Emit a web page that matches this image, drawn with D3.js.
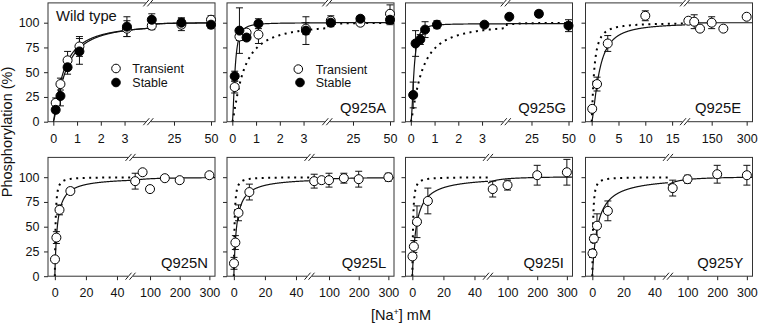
<!DOCTYPE html>
<html>
<head>
<meta charset="utf-8">
<script src="https://cdn.jsdelivr.net/npm/d3@7"></script>
<style>
  body { margin: 0; background: #fff; }
  svg { display: block; font-family: Arial, "Liberation Sans", sans-serif; }
</style>
</head>
<body>
<svg id="chart"></svg>
<script>
const width = 758;
const height = 324;

// [Na+] (mM) and phosphorylation (%), mean and error
const wtConc = [0.1, 0.3, 0.6, 1.1, 3.1, 10, 30, 50];
const wtTransient = [19, 38, 62, 76, 94, 97, 98, 103];
const wtTransientErr = [5, 6, 9, 10, 8, 4, 6, 4];
const wtStable = [12, 26, 55, 71, 96, 103, 100, 98];
const wtStableErr = [3, 10, 7, 13, 10, 6, 5, 4];

const q925aConc = [0.1, 0.3, 0.6, 1.1, 3.1, 10, 30, 50];
const q925aTransient = [35, 86, 90, 88, 94, 102, 100, 109];
const q925aTransientErr = [6, 4, 3, 9, 6, 5, 3, 9];
const q925aStable = [46, 92, 85, 99, 92, 100, 104, 103];
const q925aStableErr = [5, 23, 3, 5, 14, 4, 3, 5];

const q925gConc = [0.1, 0.2, 0.4, 0.6, 1.1, 3.1, 10, 30, 50];
const q925gStable = [27, 79, 83, 93, 98, 98, 106, 109, 97];
const q925gStableErr = [13, 13, 5, 8, 4, 2, 0, 3, 6];

const q925eConc = [0.1, 1, 3, 10, 50, 75, 100, 150, 200, 300];
const q925eTransient = [13, 38, 79, 107, 102, 101, 94, 100, 94, 106];
const q925eErr = [0, 7, 8, 5, 0, 7, 0, 6, 0, 0];

const q925nlConc = [0.1, 1, 3, 10, 50, 75, 100, 150, 200, 300];
const q925nTransient = [17, 39, 67, 86, 96, 105, 88, 99, 97, 102];
const q925nErr = [0, 6, 5, 3, 8, 0, 0, 0, 0, 0];
const q925lTransient = [13, 34, 64, 85, 96, 97, 97, 99, 98, 100];
const q925lErr = [6, 7, 8, 8, 7, 0, 7, 5, 8, 4];

const q925iyConc = [0.1, 1, 3, 10, 50, 100, 200, 300];
const q925iTransient = [20, 30, 55, 76, 88, 92, 102, 105];
const q925iErr = [3, 6, 16, 13, 8, 5, 10, 13];
const q925yTransient = [23, 38, 51, 66, 89, 98, 103, 102];
const q925yErr = [4, 4, 12, 10, 8, 4, 9, 10];

// Hill fits: [K0.5 (mM), nH, max %]
const wtFit = [0.45, 1.3, 100];
const wtTransientFit = [0.42, 1.25, 100];
const wtStableFit = [0.5, 1.35, 100];
const q925aFit = [0.11, 1.8, 100];
const q925gFit = [0.13, 2, 99];
const q925eFit = [1.4, 1.5, 100];
const q925nFit = [1.6, 1, 100];
const q925lFit = [1.8, 1, 100];
const q925iFit = [2.6, 1, 101];
const q925yFit = [3.4, 1, 101];

// broken x axes: ticks either side of the break
const ticksLow = [0, 1, 2, 3];
const ticksLowHigh = [25, 50];
const ticksE = [0, 5, 10, 15];
const ticksEHigh = [150, 300];
const ticksWide = [0, 20, 40];
const ticksWideHigh = [100, 200, 300];
const yTicks = [0, 25, 50, 75, 100];

const axisLow = { seg1: [-0.224, 4.0], seg2: [7.64, 52.7], brk: 100.3, t1: ticksLow, t2: ticksLowHigh };
const axisE = { seg1: [-1.15, 17.4], seg2: [35.6, 325], brk: 99.5, t1: ticksE, t2: ticksEHigh };
const axisWide = { seg1: [-4.4, 48.7], seg2: [34.2, 319], brk: 82.5, t1: ticksWide, t2: ticksWideHigh };

const colLeft = [48, 227, 405.5, 585.5];
const rowTop = [2.9, 157.4];
const pw = 167;
const ph = 118.8;

const open = (c, v, e) => ({ c, v, e, fill: '#fff' });
const filled = (c, v, e) => ({ c, v, e, fill: '#000' });

const panels = [
  { row: 0, col: 0, axis: axisLow, title: 'Wild type',
    series: [open(wtConc, wtTransient, wtTransientErr), filled(wtConc, wtStable, wtStableErr)],
    fits: [wtTransientFit, wtStableFit], dotted: null,
    legend: { open: [68, 65.6], filled: [68, 79.6], tx: 84.3 } },
  { row: 0, col: 1, axis: axisLow, label: 'Q925A', lx: 113,
    series: [open(q925aConc, q925aTransient, q925aTransientErr), filled(q925aConc, q925aStable, q925aStableErr)],
    fits: [q925aFit], dotted: 'both',
    legend: { open: [71.3, 66.2], filled: [73, 79.6], tx: 88.7 } },
  { row: 0, col: 2, axis: axisLow, label: 'Q925G', lx: 112.8,
    series: [filled(q925gConc, q925gStable, q925gStableErr)],
    fits: [q925gFit], dotted: 'both' },
  { row: 0, col: 3, axis: axisE, label: 'Q925E', lx: 109.5,
    series: [open(q925eConc, q925eTransient, q925eErr)],
    fits: [q925eFit], dotted: 'seg1' },
  { row: 1, col: 0, axis: axisWide, label: 'Q925N', lx: 113,
    series: [open(q925nlConc, q925nTransient, q925nErr)],
    fits: [q925nFit], dotted: 'seg1' },
  { row: 1, col: 1, axis: axisWide, label: 'Q925L', lx: 114.7,
    series: [open(q925nlConc, q925lTransient, q925lErr)],
    fits: [q925lFit], dotted: 'seg1' },
  { row: 1, col: 2, axis: axisWide, label: 'Q925I', lx: 118,
    series: [open(q925iyConc, q925iTransient, q925iErr)],
    fits: [q925iFit], dotted: 'seg1' },
  { row: 1, col: 3, axis: axisWide, label: 'Q925Y', lx: 111.8,
    series: [open(q925iyConc, q925yTransient, q925yErr)],
    fits: [q925yFit], dotted: 'seg1' }
];

const hill = ([k, n, vmax]) => c => c <= 0 ? 0 : vmax * Math.pow(c, n) / (Math.pow(k, n) + Math.pow(c, n));

const svg = d3.select('#chart')
  .attr('width', width)
  .attr('height', height);

const y = d3.scaleLinear().domain([0, 120]).range([ph, 0]);
const intFormat = d3.format('d');

panels.forEach((p, i) => {
  const ax = p.axis;
  const g = svg.append('g')
    .attr('transform', 'translate(' + colLeft[p.col] + ',' + rowTop[p.row] + ')');

  const x1 = d3.scaleLinear().domain(ax.seg1).range([0, ax.brk]);
  const x2 = d3.scaleLinear().domain(ax.seg2).range([ax.brk, pw]);
  const xPos = c => c <= ax.seg1[1] ? x1(c) : x2(c);

  g.append('clipPath').attr('id', 'clip' + i)
    .append('rect').attr('width', pw).attr('height', ph);

  // axes
  const xa1 = g.append('g').attr('transform', 'translate(0,' + ph + ')')
    .call(d3.axisBottom(x1).tickValues(ax.t1).tickFormat(intFormat).tickSize(4).tickPadding(8));
  const xa2 = g.append('g').attr('transform', 'translate(0,' + ph + ')')
    .call(d3.axisBottom(x2).tickValues(ax.t2).tickFormat(intFormat).tickSize(4).tickPadding(8));
  const ya = g.append('g')
    .call(d3.axisLeft(y).tickValues(yTicks).tickSize(4).tickPadding(4.5)
      .tickFormat(p.col === 0 ? intFormat : () => ''));
  [xa1, xa2, ya].forEach(a => {
    a.select('.domain').remove();
    a.selectAll('line').attr('stroke', '#222');
    a.selectAll('text').attr('fill', '#111').style('font-size', '12.5px').attr('font-family', null);
  });

  g.append('rect')
    .attr('width', pw).attr('height', ph)
    .attr('fill', 'none').attr('stroke', '#333').attr('stroke-width', 1);

  // axis break marks, top and bottom edges
  [0, ph].forEach(yy => {
    g.append('rect').attr('x', ax.brk - 2.5).attr('y', yy - 1.5)
      .attr('width', 5).attr('height', 3).attr('fill', '#fff');
    [-2, 2].forEach(d => {
      g.append('line')
        .attr('x1', ax.brk + d - 3).attr('y1', yy + 3.5)
        .attr('x2', ax.brk + d + 3).attr('y2', yy - 3.5)
        .attr('stroke', '#222').attr('stroke-width', 1);
    });
  });

  const plot = g.append('g').attr('clip-path', 'url(#clip' + i + ')');
  const line = d3.line().x(d => d[0]).y(d => d[1]);
  const curve = (f, lo, hi, sc) => {
    const step = (hi - lo) / 400;
    return d3.range(lo, hi + step, step).map(c => [sc(c), y(f(c))]);
  };

  // wild-type fit for reference
  if (p.dotted) {
    const f = hill(wtFit);
    const segs = [curve(f, 0, ax.seg1[1], x1)];
    if (p.dotted === 'both') segs.push(curve(f, ax.seg2[0], ax.seg2[1], x2));
    segs.forEach(s => plot.append('path')
      .attr('d', line(s))
      .attr('fill', 'none').attr('stroke', '#000')
      .attr('stroke-width', 2).attr('stroke-dasharray', '2,4.5'));
  }

  p.fits.forEach(fp => {
    const f = hill(fp);
    [curve(f, 0, ax.seg1[1], x1), curve(f, ax.seg2[0], ax.seg2[1], x2)].forEach(s =>
      plot.append('path')
        .attr('d', line(s))
        .attr('fill', 'none').attr('stroke', '#111').attr('stroke-width', 1.2));
  });

  p.series.forEach(s => {
    const pts = s.c.map((c, j) => ({ c, v: s.v[j], e: s.e[j] }));
    const eb = g.selectAll(null).data(pts.filter(d => d.e > 0)).enter().append('g')
      .attr('stroke', '#111').attr('stroke-width', 1);
    eb.append('line')
      .attr('x1', d => xPos(d.c)).attr('x2', d => xPos(d.c))
      .attr('y1', d => y(d.v - d.e)).attr('y2', d => y(d.v + d.e));
    [-1, 1].forEach(sgn => eb.append('line')
      .attr('x1', d => xPos(d.c) - 3.5).attr('x2', d => xPos(d.c) + 3.5)
      .attr('y1', d => y(d.v + sgn * d.e)).attr('y2', d => y(d.v + sgn * d.e)));
  });

  p.series.forEach(s => {
    g.selectAll(null).data(s.c).enter().append('circle')
      .attr('cx', d => xPos(d))
      .attr('cy', (d, j) => y(s.v[j]))
      .attr('r', 4.5)
      .attr('fill', s.fill)
      .attr('stroke', '#000').attr('stroke-width', 1);
  });

  if (p.title) {
    g.append('text').attr('x', 8).attr('y', 17.8)
      .style('font-size', '14.8px').attr('fill', '#111').text(p.title);
  }
  if (p.label) {
    g.append('text').attr('x', p.lx).attr('y', ph - 8.4)
      .style('font-size', '14.8px').attr('fill', '#111').text(p.label);
  }
  if (p.legend) {
    const lg = p.legend;
    [['open', '#fff', 'Transient'], ['filled', '#000', 'Stable']].forEach(([k, fill, txt]) => {
      g.append('circle').attr('cx', lg[k][0]).attr('cy', lg[k][1]).attr('r', 4.3)
        .attr('fill', fill).attr('stroke', '#000');
      g.append('text').attr('x', lg.tx).attr('y', lg[k][1] + 5)
        .style('font-size', '12.5px').attr('fill', '#111').text(txt);
    });
  }
});

svg.append('text')
  .attr('transform', 'rotate(-90)')
  .attr('x', -132)
  .attr('y', 12)
  .style('text-anchor', 'middle')
  .style('font-size', '14.5px')
  .attr('fill', '#111')
  .text('Phosphorylation (%)');

const xTitle = svg.append('text')
  .attr('x', 401)
  .attr('y', 320)
  .style('text-anchor', 'middle')
  .style('font-size', '14.5px')
  .attr('fill', '#111');
xTitle.append('tspan').text('[Na');
xTitle.append('tspan').attr('dy', -5).style('font-size', '9px').text('+');
xTitle.append('tspan').attr('dy', 5).text('] mM');
</script>
</body>
</html>
